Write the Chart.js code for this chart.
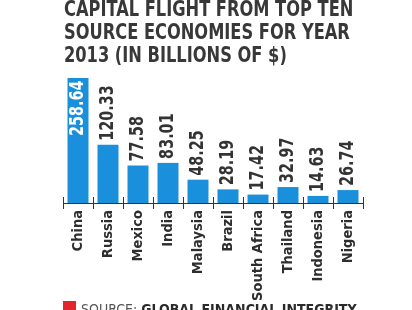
<!DOCTYPE html>
<html>
<head>
<meta charset="utf-8">
<script src="https://cdn.jsdelivr.net/npm/chart.js@4"></script>
<style>
  html, body { margin: 0; padding: 0; background: #fff; }
  body { width: 412px; height: 310px; position: relative; overflow: hidden; }
  #title {
    position: absolute; left: 64px; top: -2px;
    font: bold 21px 'DejaVu Sans Condensed', sans-serif;
    line-height: 23px; color: #383838; white-space: nowrap;
    transform: scaleX(0.86); transform-origin: left top;
  }
  #source {
    position: absolute; left: 63px; top: 301px;
    font: 14px 'DejaVu Sans Condensed', sans-serif;
    color: #555; white-space: nowrap;
  }
  #source b { color: #2a2a2a; }
  #source span.sq { display: inline-block; width: 13px; height: 13px; background: #e3262c; vertical-align: top; margin-right: 5px; }
  #wrap { position: absolute; left: 0; top: 0; width: 412px; height: 310px; }
</style>
</head>
<body>
<div id="wrap"><canvas id="flightChart"></canvas></div>
<div id="title">CAPITAL FLIGHT FROM TOP TEN<br>SOURCE ECONOMIES FOR YEAR<br>2013 (IN BILLIONS OF $)</div>
<div id="source"><span class="sq"></span>SOURCE: <b>GLOBAL FINANCIAL INTEGRITY</b></div>
<script>
const countries = ['China', 'Russia', 'Mexico', 'India', 'Malaysia', 'Brazil', 'South Africa', 'Thailand', 'Indonesia', 'Nigeria'];
const flight = [258.64, 120.33, 77.58, 83.01, 48.25, 28.19, 17.42, 32.97, 14.63, 26.74];
const valueLabels = ['258.64', '120.33', '77.58', '83.01', '48.25', '28.19', '17.42', '32.97', '14.63', '26.74'];

const FONT = "'DejaVu Sans Condensed', sans-serif";

// small ticks that stick up above the axis line
const upTicks = {
  id: 'upTicks',
  afterDraw(chart) {
    const sc = chart.scales.x;
    const ctx = chart.ctx;
    ctx.save();
    ctx.strokeStyle = '#333';
    ctx.lineWidth = 1;
    for (let i = 0; i <= countries.length; i++) {
      const x = Math.round(sc.getPixelForValue(i - 0.5)) + 0.5;
      ctx.beginPath();
      ctx.moveTo(x, sc.top);
      ctx.lineTo(x, sc.top - 6);
      ctx.stroke();
    }
    ctx.restore();
  }
};

// rotated value labels, squeezed a bit to look condensed
const barValues = {
  id: 'barValues',
  afterDatasetsDraw(chart) {
    const ctx = chart.ctx;
    const meta = chart.getDatasetMeta(0);
    const top = Math.max(...flight);
    ctx.save();
    ctx.font = 'bold 20px ' + FONT;
    ctx.textBaseline = 'middle';
    meta.data.forEach(function(bar, i) {
      ctx.save();
      ctx.translate(bar.x, bar.y);
      ctx.rotate(-Math.PI / 2);
      ctx.scale(0.8, 1);
      if (flight[i] === top) {
        ctx.fillStyle = '#fff';
        ctx.textAlign = 'right';
        ctx.fillText(valueLabels[i], -3, 0);
      } else {
        ctx.fillStyle = '#333';
        ctx.textAlign = 'left';
        ctx.fillText(valueLabels[i], 5, 0);
      }
      ctx.restore();
    });
    ctx.restore();
  }
};

const ctx = document.getElementById('flightChart').getContext('2d');
const chart = new Chart(ctx, {
  type: 'bar',
  data: {
    labels: countries,
    datasets: [{
      data: flight,
      backgroundColor: '#1a8fdb',
      borderWidth: 0,
      barPercentage: 0.7,
      categoryPercentage: 1
    }]
  },
  options: {
    responsive: true,
    maintainAspectRatio: false,
    animation: false,
    layout: { padding: { left: 63, right: 49, top: 58, bottom: 0 } },
    plugins: { legend: { display: false }, tooltip: { enabled: false } },
    scales: {
      y: { display: false, min: 0, max: 300 },
      x: {
        afterFit(scale) { scale.height = 107; },
        border: { display: true, color: '#333', width: 1 },
        grid: { display: true, drawOnChartArea: false, drawTicks: true, tickLength: 6, color: '#333', offset: true },
        ticks: {
          minRotation: 90, maxRotation: 90, padding: 1,
          color: '#2e2e2e',
          font: { family: FONT, size: 14.5, weight: 'bold' }
        }
      }
    }
  },
  plugins: [upTicks, barValues]
});
</script>
</body>
</html>
